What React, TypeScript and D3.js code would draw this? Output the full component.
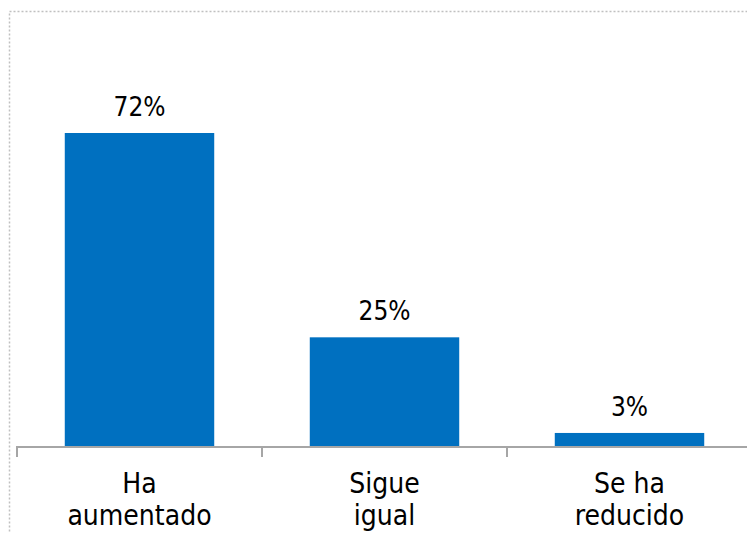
import React from "react";
import * as d3 from "d3";

const categories: string[][] = [["Ha", "aumentado"], ["Sigue", "igual"], ["Se ha", "reducido"]];
const values: number[] = [72, 25, 3];
const valueLabels: string[] = ["72%", "25%", "3%"];

const W = 747;
const H = 533;
const FONT = "'DejaVu Sans Condensed', 'DejaVu Sans', sans-serif";

export default function App() {
  const x0 = 17;
  const step = 245;
  const x = d3
    .scaleBand<number>()
    .domain(values.map((_, i) => i))
    .range([x0, x0 + step * values.length])
    .paddingInner(0.39)
    .paddingOuter(0.195);
  const baseY = 446;
  const y = d3.scaleLinear().domain([0, 72]).range([baseY, 133]);
  const ticks = d3.range(values.length + 1).map((i) => x0 + i * step);

  return (
    <svg width={W} height={H} style={{ position: "absolute", left: 0, top: 0, background: "#fff" }}>
      <rect x={9.5} y={11.5} width={W} height={H} fill="none" stroke="#c0c0c0" strokeWidth={1.5} strokeDasharray="2,2" />
      {values.map((v, i) => {
        const bx = x(i)!;
        const bw = x.bandwidth();
        return (
          <g key={i}>
            <rect x={bx} y={y(v)} width={bw} height={baseY - y(v)} fill="#0070C0" />
            <text x={bx + bw / 2} y={y(v) - 17} textAnchor="middle" fontFamily={FONT} fontSize={26} fill="#000">
              {valueLabels[i]}
            </text>
          </g>
        );
      })}
      <line x1={x0} x2={W} y1={baseY + 1} y2={baseY + 1} stroke="#a6a6a6" strokeWidth={2} />
      {ticks.map((t, i) => (
        <line key={i} x1={t} x2={t} y1={baseY} y2={baseY + 11} stroke="#a6a6a6" strokeWidth={2} />
      ))}
      {categories.map((lines, i) => (
        <text key={i} x={x0 + step * i + step / 2} textAnchor="middle" fontFamily={FONT} fontSize={28} fill="#000">
          {lines.map((l, j) => (
            <tspan key={j} x={x0 + step * i + step / 2} y={493 + j * 32}>
              {l}
            </tspan>
          ))}
        </text>
      ))}
    </svg>
  );
}
